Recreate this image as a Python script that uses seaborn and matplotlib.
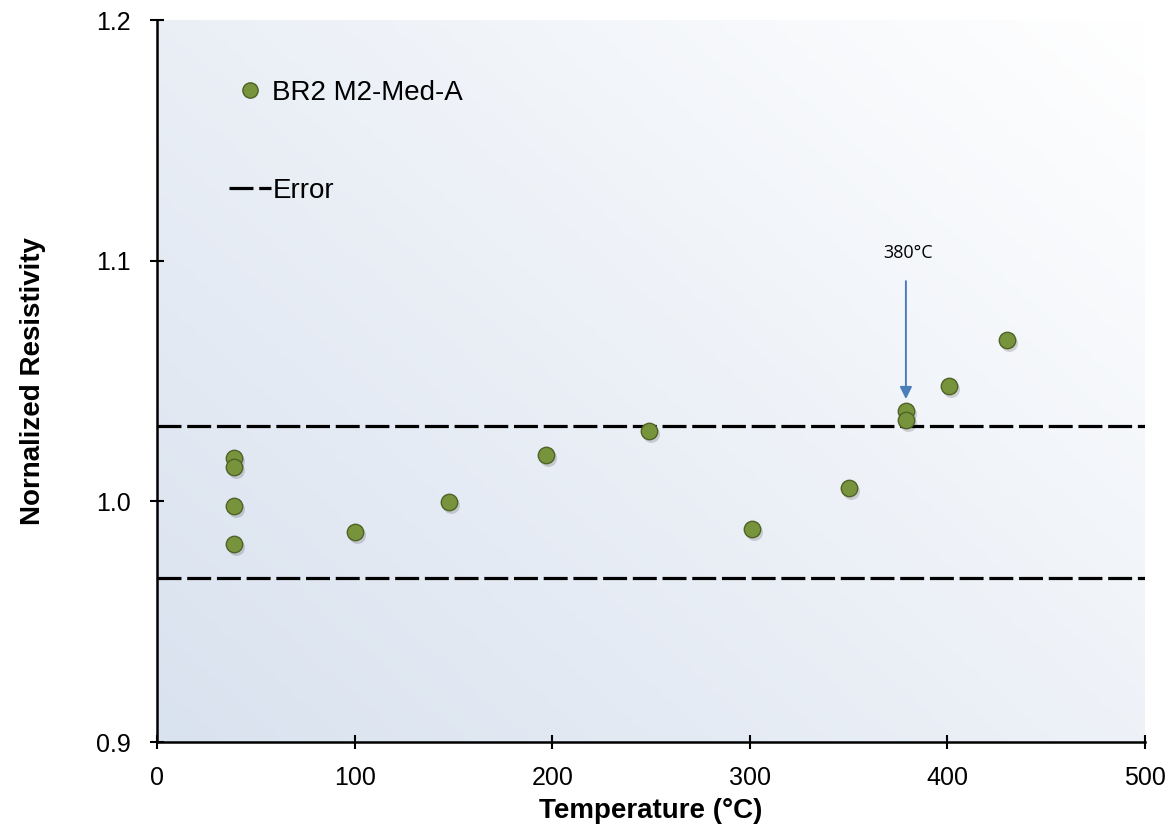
import numpy as np
import pandas as pd
import matplotlib
matplotlib.use("Agg")
import matplotlib.pyplot as plt
import seaborn as sns
from matplotlib.colors import LinearSegmentedColormap
from matplotlib.lines import Line2D

temperature = [39, 39, 39, 39, 100, 148, 197, 249, 301, 350, 379, 379, 401, 430]
resistivity = [1.018, 1.0143, 0.998, 0.9823, 0.9873, 0.9997, 1.0193, 1.0292,
               0.9885, 1.0055, 1.0375, 1.0338, 1.0479, 1.067]
error_upper = 1.0315
error_lower = 0.968
series_label = "BR2 M2-Med-A"
error_label = "Error"
annot_text = "380°C"
annot_x = 379
x_ticks = [0, 100, 200, 300, 400, 500]
y_ticks = [0.9, 1.0, 1.1, 1.2]

df = pd.DataFrame({"Temperature": temperature, "Resistivity": resistivity})

sns.set_theme(style="white")
plt.rcParams['font.family'] = ['Liberation Sans', 'DejaVu Sans']
plt.rcParams['text.color'] = 'black'
plt.rcParams['axes.labelcolor'] = 'black'

fig = plt.figure(figsize=(11.76, 8.34), dpi=100)
ax = fig.add_axes([157/1176, 92/834, (1145-157)/1176, (742-20)/834])

# gradient background
cmap = LinearSegmentedColormap.from_list("bg", ["#d9e2ef", "#ffffff"])
gx, gy = np.meshgrid(np.linspace(0, 1, 256), np.linspace(0, 1, 256))
grad = (gx * 0.55 + gy * 0.45)
ax.imshow(grad, cmap=cmap, extent=[0, 1, 0, 1], transform=ax.transAxes,
          origin="lower", aspect="auto", zorder=0, interpolation="bicubic")

ax.set_xlim(0, 500)
ax.set_ylim(0.9, 1.2)

# error lines
for v in (error_upper, error_lower):
    ax.axhline(v, color="black", lw=2.3, dashes=(7.5, 1.8), zorder=2)

# shadows
sns.scatterplot(data=df, x="Temperature", y="Resistivity", ax=ax, s=150,
                color="#000000", alpha=0.15, linewidth=0, legend=False, zorder=3,
                transform=ax.transData + matplotlib.transforms.ScaledTranslation(2/100, -3/100, fig.dpi_scale_trans))
sns.scatterplot(data=df, x="Temperature", y="Resistivity", ax=ax, s=140,
                color="#77933c", edgecolor="#4f6228", linewidth=1.0, legend=False, zorder=4)

# annotation arrow
ax.annotate("", xy=(annot_x, 1.0425), xytext=(annot_x, 1.0915),
            arrowprops=dict(arrowstyle="-|>", color="#4a7ebb", lw=1.4,
                            mutation_scale=18, shrinkA=0, shrinkB=0), zorder=5)
ax.text(annot_x + 1, 1.0995, annot_text, ha="center", va="bottom", fontsize=13,
        family=["Open Sans", "DejaVu Sans"], zorder=5)

ax.set_xticks(x_ticks)
ax.set_yticks(y_ticks)
ax.set_xticklabels([str(t) for t in x_ticks])
ax.set_yticklabels([f"{t:.1f}" for t in y_ticks])
ax.tick_params(axis="both", which="both", direction="inout", length=10, width=1.5,
               labelsize=18, colors="black", left=True, bottom=True)
ax.tick_params(axis="x", pad=12)
ax.tick_params(axis="y", pad=14)

for side in ("top", "right"):
    ax.spines[side].set_visible(False)
for side in ("left", "bottom"):
    ax.spines[side].set_color("black")
    ax.spines[side].set_linewidth(1.8)

ax.set_xlabel("Temperature (°C)", fontsize=20, fontweight="bold", labelpad=6)
ax.set_ylabel("Nornalized Resistivity", fontsize=20, fontweight="bold", labelpad=36)

handles = [
    Line2D([], [], marker="o", linestyle="none", markersize=11,
           markerfacecolor="#77933c", markeredgecolor="#4f6228"),
    Line2D([], [], color="black", lw=2.3, dashes=(7.5, 1.8)),
]
leg = ax.legend(handles, [series_label, error_label], loc="upper left",
                bbox_to_anchor=(0.048, 0.952), frameon=False, fontsize=20,
                labelspacing=2.6, handlelength=1.5, handletextpad=0.05,
                labelcolor="black")

fig.savefig("out.png", dpi=100)
